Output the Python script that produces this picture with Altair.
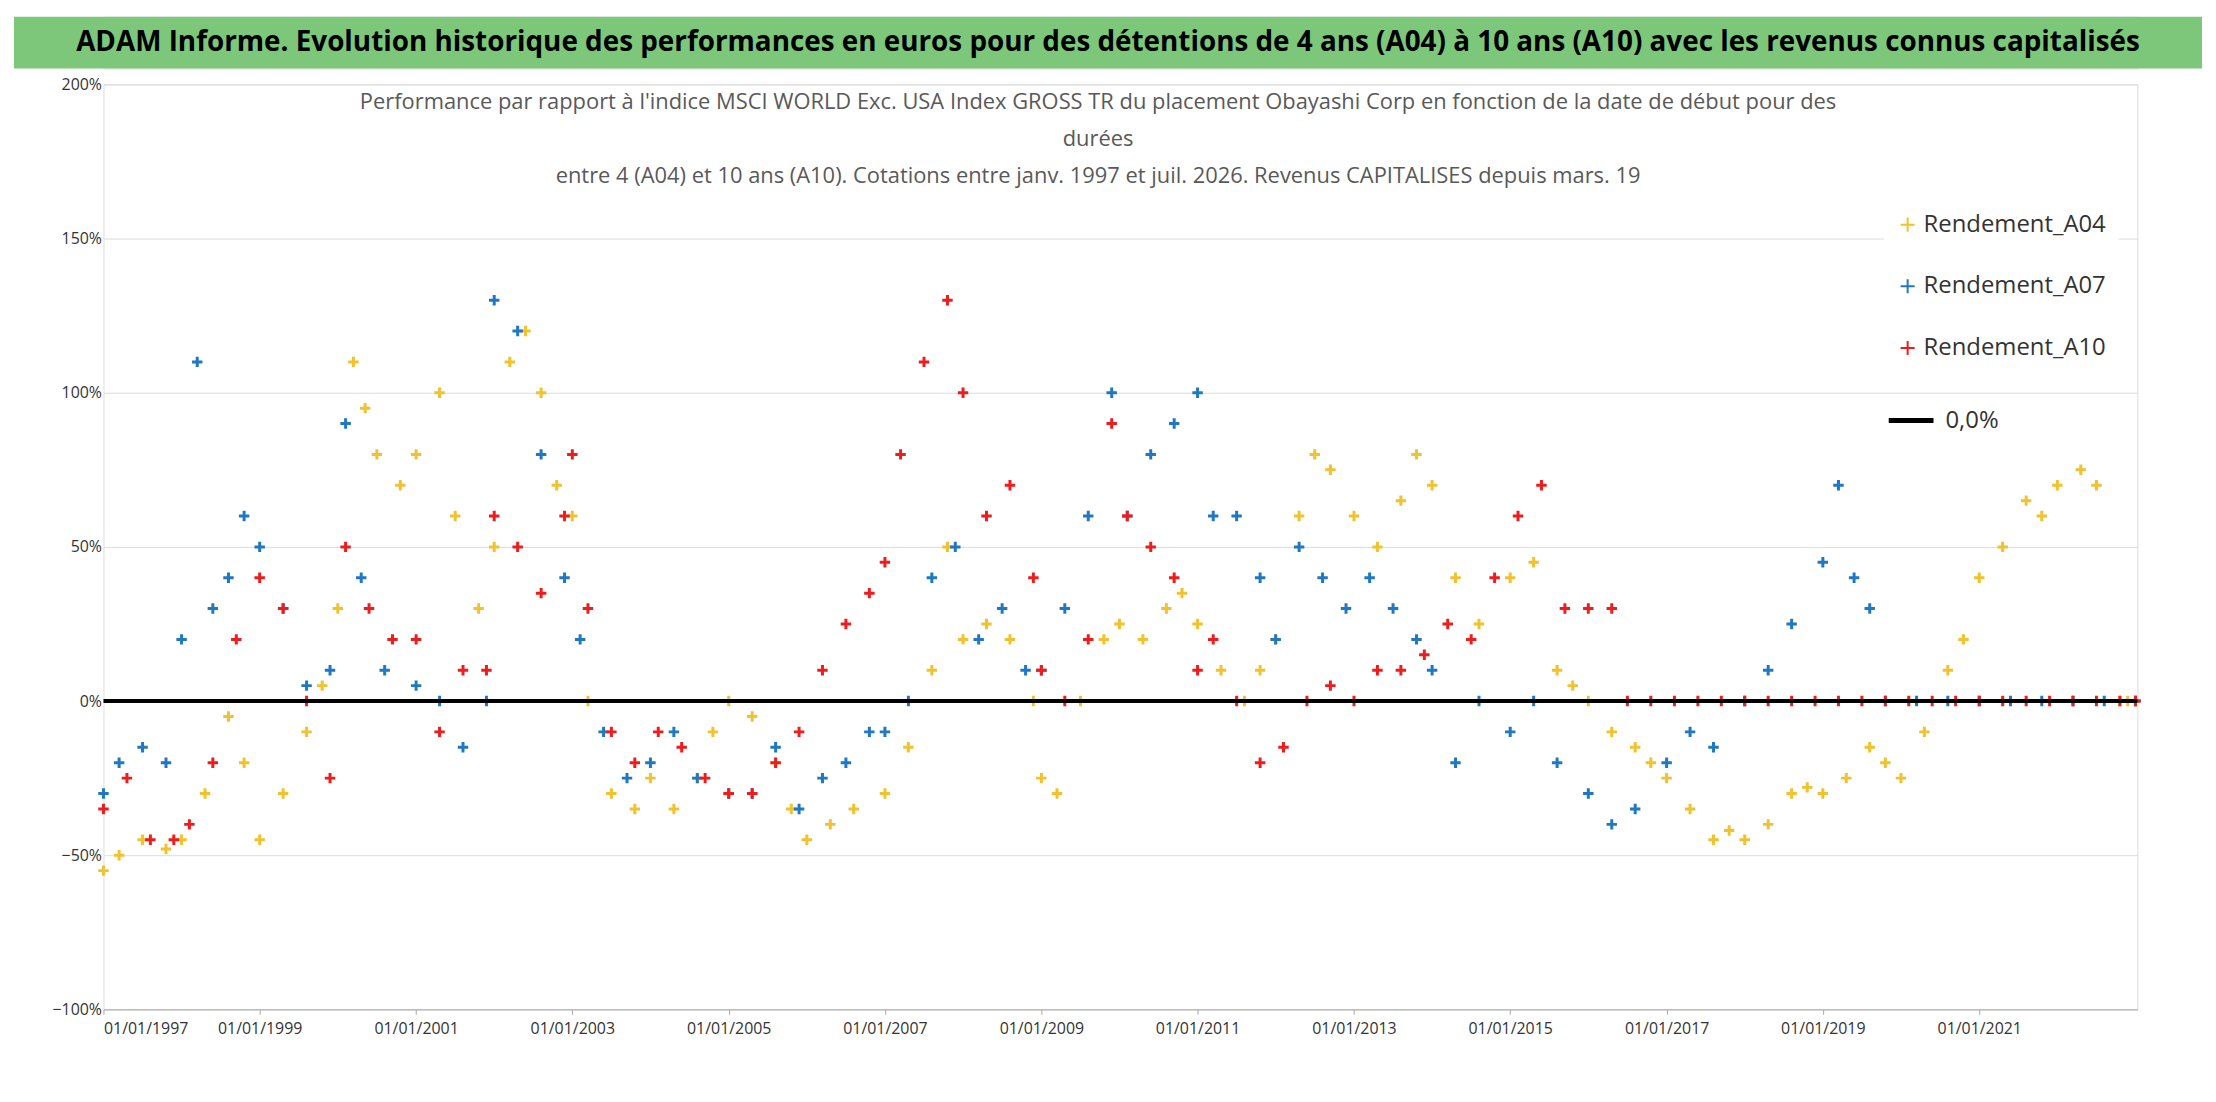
import altair as alt
import pandas as pd

# decimal year, performance in %
a04_t = [1997.0, 1997.2, 1997.5, 1997.8, 1998.0, 1998.3, 1998.6, 1998.8, 1999.0, 1999.3, 1999.6, 1999.8,
         2000.0, 2000.2, 2000.35, 2000.5, 2000.8, 2001.0, 2001.3, 2001.5, 2001.8, 2002.0, 2002.2, 2002.4,
         2002.6, 2002.8, 2003.0, 2003.2, 2003.5, 2003.8, 2004.0, 2004.3, 2004.6, 2004.8, 2005.0, 2005.3,
         2005.6, 2005.8, 2006.0, 2006.3, 2006.6, 2007.0, 2007.3, 2007.6, 2007.8, 2008.0, 2008.3, 2008.6,
         2008.9, 2009.0, 2009.2, 2009.5, 2009.8, 2010.0, 2010.3, 2010.6, 2010.8, 2011.0, 2011.3, 2011.6,
         2011.8, 2012.0, 2012.3, 2012.5, 2012.7, 2013.0, 2013.3, 2013.6, 2013.8, 2014.0, 2014.3, 2014.6,
         2015.0, 2015.3, 2015.6, 2015.8, 2016.0, 2016.3, 2016.6, 2016.8, 2017.0, 2017.3, 2017.6, 2017.8,
         2018.0, 2018.3, 2018.6, 2018.8, 2019.0, 2019.3, 2019.6, 2019.8, 2020.0, 2020.3, 2020.6, 2020.8,
         2021.0, 2021.3, 2021.6, 2021.8, 2022.0, 2022.3, 2022.5, 2022.8, 2022.9, 2023.0]
a04_v = [-55, -50, -45, -48, -45, -30, -5, -20, -45, -30, -10, 5,
         30, 110, 95, 80, 70, 80, 100, 60, 30, 50, 110, 120,
         100, 70, 60, 0, -30, -35, -25, -35, -25, -10, 0, -5,
         -20, -35, -45, -40, -35, -30, -15, 10, 50, 20, 25, 20,
         0, -25, -30, 0, 20, 25, 20, 30, 35, 25, 10, 0,
         10, 20, 60, 80, 75, 60, 50, 65, 80, 70, 40, 25,
         40, 45, 10, 5, 0, -10, -15, -20, -25, -35, -45, -42,
         -45, -40, -30, -28, -30, -25, -15, -20, -25, -10, 10, 20,
         40, 50, 65, 60, 70, 75, 70, 0, 0, 0]

a07_t = [1997.0, 1997.2, 1997.5, 1997.8, 1998.0, 1998.2, 1998.4, 1998.6, 1998.8, 1999.0, 1999.3, 1999.6,
         1999.9, 2000.1, 2000.3, 2000.6, 2001.0, 2001.3, 2001.6, 2001.9, 2002.0, 2002.3, 2002.6, 2002.9,
         2003.1, 2003.4, 2003.7, 2004.0, 2004.3, 2004.6, 2005.0, 2005.3, 2005.6, 2005.9, 2006.2, 2006.5,
         2006.8, 2007.0, 2007.3, 2007.6, 2007.9, 2008.2, 2008.5, 2008.8, 2009.0, 2009.3, 2009.6, 2009.9,
         2010.1, 2010.4, 2010.7, 2011.0, 2011.2, 2011.5, 2011.8, 2012.0, 2012.3, 2012.6, 2012.9, 2013.2,
         2013.5, 2013.8, 2014.0, 2014.3, 2014.6, 2015.0, 2015.3, 2015.6, 2016.0, 2016.3, 2016.6, 2017.0,
         2017.3, 2017.6, 2018.0, 2018.3, 2018.6, 2019.0, 2019.2, 2019.4, 2019.6, 2019.8, 2020.2, 2020.6,
         2021.0, 2021.4, 2021.8, 2022.2, 2022.6, 2023.0]
a07_v = [-30, -20, -15, -20, 20, 110, 30, 40, 60, 50, 30, 5,
         10, 90, 40, 10, 5, 0, -15, 0, 130, 120, 80, 40,
         20, -10, -25, -20, -10, -25, -30, -30, -15, -35, -25, -20,
         -10, -10, 0, 40, 50, 20, 30, 10, 10, 30, 60, 100,
         60, 80, 90, 100, 60, 60, 40, 20, 50, 40, 30, 40,
         30, 20, 10, -20, 0, -10, 0, -20, -30, -40, -35, -20,
         -10, -15, 0, 10, 25, 45, 70, 40, 30, 0, 0, 0,
         0, 0, 0, 0, 0, 0]

a10_t = [1997.0, 1997.3, 1997.6, 1997.9, 1998.1, 1998.4, 1998.7, 1999.0, 1999.3, 1999.6, 1999.9, 2000.1,
         2000.4, 2000.7, 2001.0, 2001.3, 2001.6, 2001.9, 2002.0, 2002.3, 2002.6, 2002.9, 2003.0, 2003.2,
         2003.5, 2003.8, 2004.1, 2004.4, 2004.7, 2005.0, 2005.3, 2005.6, 2005.9, 2006.2, 2006.5, 2006.8,
         2007.0, 2007.2, 2007.5, 2007.8, 2008.0, 2008.3, 2008.6, 2008.9, 2009.0, 2009.3, 2009.6, 2009.9,
         2010.1, 2010.4, 2010.7, 2011.0, 2011.2, 2011.5, 2011.8, 2012.1, 2012.4, 2012.7, 2013.0, 2013.3,
         2013.6, 2013.9, 2014.2, 2014.5, 2014.8, 2015.1, 2015.4, 2015.7, 2016.0, 2016.3, 2016.5, 2016.8,
         2017.1, 2017.4, 2017.7, 2018.0, 2018.3, 2018.6, 2018.9, 2019.2, 2019.5, 2019.8, 2020.1, 2020.4,
         2020.7, 2021.0, 2021.3, 2021.6, 2021.9, 2022.2, 2022.5, 2022.8, 2023.0]
a10_v = [-35, -25, -45, -45, -40, -20, 20, 40, 30, 0, -25, 50,
         30, 20, 20, -10, 10, 10, 60, 50, 35, 60, 80, 30,
         -10, -20, -10, -15, -25, -30, -30, -20, -10, 10, 25, 35,
         45, 80, 110, 130, 100, 60, 70, 40, 10, 0, 20, 90,
         60, 50, 40, 10, 20, 0, -20, -15, 0, 5, 0, 10,
         10, 15, 25, 20, 40, 60, 70, 30, 30, 30, 0, 0,
         0, 0, 0, 0, 0, 0, 0, 0, 0, 0, 0, 0,
         0, 0, 0, 0, 0, 0, 0, 0, 0]

series = ["Rendement_A04", "Rendement_A07", "Rendement_A10"]
colors = ["#f2c12e", "#1f78c1", "#ee1c1c"]
tick_years = list(range(1997, 2023, 2))


def to_date(y):
    year = int(y)
    return pd.Timestamp(year=year, month=1, day=1) + pd.Timedelta(days=(y - year) * 365.25)


rows = []
for name, ts, vs in zip(series, [a04_t, a07_t, a10_t], [a04_v, a07_v, a10_v]):
    for t, v in zip(ts, vs):
        rows.append({"date": to_date(t), "value": v / 100, "serie": name})
df = pd.DataFrame(rows)

FONT = "Open Sans"
plus = "M-1,0H1M0,-1V1"

x_enc = alt.X("date:T", title=None,
              scale=alt.Scale(domain=[pd.Timestamp("1997-01-01").isoformat(), pd.Timestamp("2023-01-10").isoformat()]),
              axis=alt.Axis(values=[pd.Timestamp(year=y, month=1, day=1).isoformat() for y in tick_years],
                            format="%d/%m/%Y", grid=False, labelFontSize=16, labelFont=FONT,
                            labelColor="#333", domainColor="#aaa", tickColor="#aaa", labelPadding=6))
y_enc = alt.Y("value:Q", title=None,
              scale=alt.Scale(domain=[-1, 2]),
              axis=alt.Axis(values=[-1, -0.5, 0, 0.5, 1, 1.5, 2], format=".0%", labelFontSize=16,
                            labelFont=FONT, labelColor="#333", gridColor="#dcdcdc", domain=False, ticks=False))

points = alt.Chart(df).mark_point(shape=plus, size=110, strokeWidth=3, filled=False, opacity=1).encode(
    x=x_enc, y=y_enc,
    color=alt.Color("serie:N", scale=alt.Scale(domain=series, range=colors),
                    legend=alt.Legend(title=None, orient="none", legendX=1790, legendY=185,
                                      symbolType=plus, symbolSize=200, symbolStrokeWidth=2,
                                      labelFontSize=24, labelFont=FONT, labelColor="#333", labelLimit=0,
                                      rowPadding=38, fillColor="white", padding=12)),
)

zero = alt.Chart(pd.DataFrame({"value": [0]})).mark_rule(color="black", strokeWidth=4).encode(y="value:Q")

leg_rule = alt.Chart(pd.DataFrame({"a": [0]})).mark_rule(color="black", strokeWidth=5).encode(
    x=alt.value(1795), x2=alt.value(1840), y=alt.value(338))
leg_text = alt.Chart(pd.DataFrame({"t": ["0,0%"]})).mark_text(
    align="left", baseline="middle", fontSize=24, font=FONT, color="#333").encode(
    x=alt.value(1852), y=alt.value(338), text="t:N")

title_lines = pd.DataFrame({
    "t": ["Performance par rapport à l'indice MSCI WORLD Exc. USA Index GROSS TR  du placement Obayashi Corp en fonction de la date de début pour des",
          "durées",
          "entre 4 (A04) et 10 ans (A10). Cotations entre janv. 1997 et juil. 2026. Revenus CAPITALISES depuis mars. 19"],
    "y": [18, 55, 92],
})
titles = alt.Chart(title_lines).mark_text(fontSize=22, font=FONT, color="#595959", baseline="middle").encode(
    x=alt.value(1000), y=alt.Y("y:Q", scale=None), text="t:N")

main = (points + zero + leg_rule + leg_text + titles).properties(width=2045, height=930)

banner_df = pd.DataFrame({"t": ["ADAM Informe. Evolution historique des performances en euros pour des détentions de 4 ans (A04) à 10 ans (A10) avec les revenus connus capitalisés"]})
banner = (
    alt.Chart(banner_df).mark_rect(color="#7dc77b").encode(x=alt.value(-90), x2=alt.value(2110), y=alt.value(0), y2=alt.value(52))
    + alt.Chart(banner_df).mark_text(fontSize=28, fontWeight="bold", font=FONT, color="black").encode(
        x=alt.value(1010), y=alt.value(26), text="t:N")
).properties(width=2045, height=52)

chart = alt.vconcat(banner, main, spacing=6).configure_view(stroke=None).configure(background="white")
chart.save("out.html", embed_options={"renderer": "svg", "actions": False})
